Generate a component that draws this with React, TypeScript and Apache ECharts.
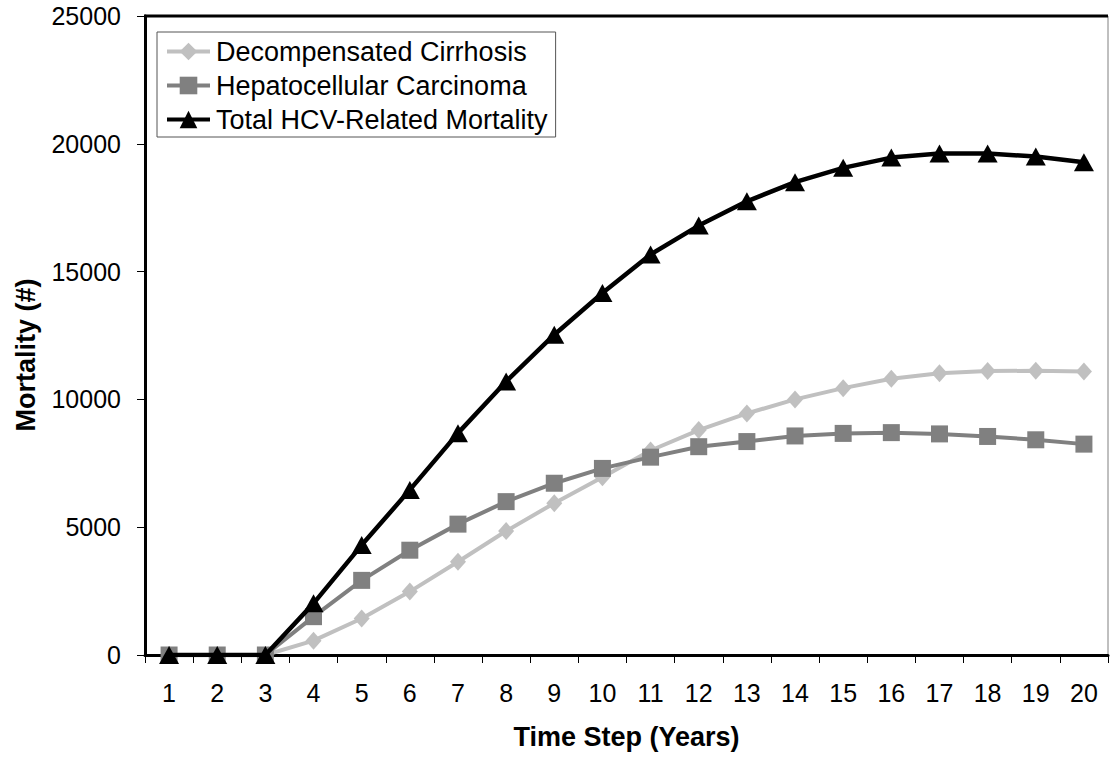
import React, { useEffect, useRef } from "react";
import * as echarts from "echarts";

const categories = ["1","2","3","4","5","6","7","8","9","10","11","12","13","14","15","16","17","18","19","20"];
const yTicks = [0, 5000, 10000, 15000, 20000, 25000];
const decompensatedCirrhosis = [0,0,0,560,1430,2480,3650,4850,5940,6950,8000,8800,9450,10000,10440,10810,11020,11110,11120,11090];
const hepatocellularCarcinoma = [0,0,0,1500,2920,4100,5120,6000,6720,7300,7740,8150,8350,8570,8670,8700,8650,8550,8420,8250];
const totalMortality = [0,0,0,2020,4300,6460,8680,10700,12530,14160,15670,16800,17750,18500,19060,19460,19620,19620,19500,19280];

const FONT = "'Liberation Sans', Arial, sans-serif";

export default function App() {
  const ref = useRef<HTMLDivElement>(null);
  useEffect(() => {
    if (!ref.current) return;
    const chart = echarts.init(ref.current, null, { renderer: "svg" });
    chart.setOption({
      animation: false,
      backgroundColor: "#ffffff",
      textStyle: { fontFamily: FONT, color: "#000" },
      grid: {
        left: 145,
        right: 2,
        top: 16,
        bottom: 103,
        show: true,
        borderColor: "#808080",
        borderWidth: 1,
      },
      legend: {
        orient: "vertical",
        left: 157,
        top: 32,
        padding: [6, 8, 4, 8],
        itemGap: 7,
        itemWidth: 43,
        itemHeight: 22,
        lineStyle: { width: 4 },
        backgroundColor: "#ffffff",
        borderColor: "#555555",
        borderWidth: 1,
        textStyle: { fontFamily: FONT, fontSize: 27, color: "#000", padding: [0, 0, 0, 1] },
        data: [
          "Decompensated Cirrhosis",
          "Hepatocellular Carcinoma",
          "Total HCV-Related Mortality",
        ],
      },
      xAxis: {
        type: "category",
        data: categories,
        boundaryGap: true,
        name: "Time Step (Years)",
        nameLocation: "middle",
        nameGap: 68,
        nameTextStyle: { fontFamily: FONT, fontSize: 27, fontWeight: "bold", color: "#000" },
        axisLine: { lineStyle: { color: "#000", width: 3 } },
        axisTick: { show: true, length: 8, lineStyle: { color: "#000", width: 1 } },
        axisLabel: { fontFamily: FONT, fontSize: 25, color: "#000", margin: 25 },
        splitLine: { show: false },
      },
      yAxis: {
        type: "value",
        min: yTicks[0],
        max: yTicks[yTicks.length - 1],
        interval: yTicks[1] - yTicks[0],
        axisLine: { show: true, lineStyle: { color: "#000", width: 3 } },
        axisTick: { show: true, length: 8, lineStyle: { color: "#000", width: 1 } },
        axisLabel: {
          fontFamily: FONT,
          fontSize: 25,
          color: "#000",
          margin: 24,
          formatter: (v: number) => String(v),
        },
        splitLine: { show: false },
      },
      graphic: [
        {
          type: "line",
          shape: { x1: 144, y1: 16, x2: 1108, y2: 16 },
          style: { stroke: "#000", lineWidth: 3 },
          z: 10,
        },
        {
          type: "text",
          x: 26,
          y: 355,
          rotation: Math.PI / 2,
          style: {
            text: "Mortality (#)",
            fontFamily: FONT,
            fontSize: 27,
            fontWeight: "bold",
            fill: "#000",
            align: "center",
            verticalAlign: "middle",
          },
        },
      ],
      series: [
        {
          name: "Decompensated Cirrhosis",
          type: "line",
          data: decompensatedCirrhosis,
          symbol: "diamond",
          symbolSize: [16, 18],
          showAllSymbol: true,
          lineStyle: { color: "#C0C0C0", width: 4 },
          itemStyle: { color: "#C0C0C0" },
          z: 2,
        },
        {
          name: "Hepatocellular Carcinoma",
          type: "line",
          data: hepatocellularCarcinoma,
          symbol: "rect",
          symbolSize: 17,
          showAllSymbol: true,
          lineStyle: { color: "#808080", width: 4 },
          itemStyle: { color: "#808080" },
          z: 3,
        },
        {
          name: "Total HCV-Related Mortality",
          type: "line",
          data: totalMortality,
          symbol: "triangle",
          symbolSize: [20, 18],
          showAllSymbol: true,
          lineStyle: { color: "#000000", width: 4.5 },
          itemStyle: { color: "#000000" },
          z: 4,
        },
      ],
    });
    return () => chart.dispose();
  }, []);
  return (
    <div
      ref={ref}
      style={{ position: "fixed", left: 0, top: 0, width: 1110, height: 758 }}
    />
  );
}
